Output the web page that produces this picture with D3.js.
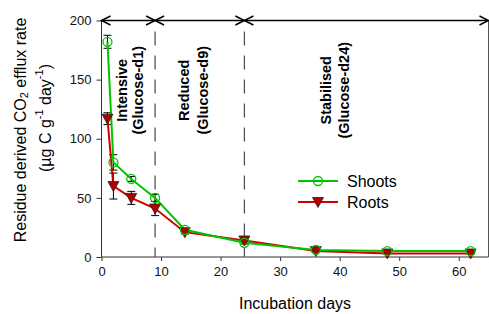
<!DOCTYPE html>
<html>
<head>
<meta charset="utf-8">
<script src="https://cdn.jsdelivr.net/npm/d3@7"></script>
<style>
  body { margin: 0; background: #fff; }
  text { font-family: Arial, "Liberation Sans", sans-serif; }
</style>
</head>
<body>
<div class="chart"></div>
<script>
var days = [1, 2, 5, 9, 14, 24, 36, 48, 62];
var shoots = [182, 80, 66, 50, 23, 12, 6, 5, 5];
var shootsErr = [5.5, 6.5, 2, 3, 1, 1, 0.5, 0.5, 0.5];
var roots = [117, 60, 50, 41, 21, 14, 5, 3, 3];
var rootsErr = [5, 11, 5.5, 6, 1.5, 1, 0.5, 0.5, 0.5];
var xTicks = [0, 10, 20, 30, 40, 50, 60];
var yTicks = [0, 50, 100, 150, 200];
var phaseBounds = [0, 9, 24, 65];
var phaseNames = [["Intensive", "(Glucose-d1)"], ["Reduced", "(Glucose-d9)"], ["Stabilised", "(Glucose-d24)"]];
var phaseLabelX = [[3.4, 6.1], [13.9, 17], [37.7, 40.7]];

var svgWidth = 489;
var svgHeight = 314;
var margin = {top: 20.5, right: 0.5, bottom: 57, left: 101.5};
var width = svgWidth - margin.left - margin.right;
var height = svgHeight - margin.top - margin.bottom;

var svg = d3.select(".chart")
  .append("svg")
  .attr("width", svgWidth)
  .attr("height", svgHeight);

var g = svg.append("g").attr("transform", `translate(${margin.left}, ${margin.top})`);

var xScale = d3.scaleLinear().domain([0, 65]).range([0, width]);
var yScale = d3.scaleLinear().domain([0, 200]).range([height, 0]);

var xAxis = g.append("g").attr("transform", `translate(0, ${height})`)
  .call(d3.axisBottom(xScale).tickValues(xTicks).tickSize(4).tickPadding(6));
var yAxis = g.append("g")
  .call(d3.axisLeft(yScale).tickValues(yTicks).tickSize(5).tickPadding(5));
[xAxis, yAxis].forEach(function(a) {
  a.selectAll("text").attr("font-size", 13).attr("fill", "#111");
  a.select(".domain").attr("stroke", "#333");
  a.selectAll(".tick line").attr("stroke", "#333");
});
xAxis.select(".domain").attr("d", `M0,0H${width}`);
yAxis.select(".domain").attr("d", `M0,${height}V0`);

// right border
g.append("line").attr("x1", width).attr("x2", width).attr("y1", 0).attr("y2", height)
  .attr("stroke", "#555");

// phase separators
g.selectAll(".sep").data(phaseBounds.slice(1, 3)).enter().append("line")
  .attr("x1", d => xScale(d)).attr("x2", d => xScale(d))
  .attr("y1", 11).attr("y2", height)
  .attr("stroke", "#555").attr("stroke-width", 1.3)
  .attr("stroke-dasharray", "14,10");

// top arrows
g.append("line").attr("x1", 0).attr("x2", width).attr("y1", 0).attr("y2", 0)
  .attr("stroke", "#000").attr("stroke-width", 1.3);
function head(x, dir) {
  g.append("path")
    .attr("d", `M${x + dir * 9},-4.5L${x},0L${x + dir * 9},4.5`)
    .attr("fill", "none").attr("stroke", "#000").attr("stroke-width", 1.5);
}
phaseBounds.forEach(function(b, i) {
  if (i < phaseBounds.length - 1) head(xScale(b), 1);
  if (i > 0) head(xScale(b), -1);
});

// phase labels
phaseNames.forEach(function(p, i) {
  p.forEach(function(t, j) {
    var cx = xScale(phaseLabelX[i][j]);
    var cy = yScale(141);
    g.append("text")
      .attr("transform", `translate(${cx}, ${cy}) rotate(-90)`)
      .attr("text-anchor", "middle")
      .attr("dominant-baseline", "central")
      .attr("font-size", 14.5).attr("font-weight", "bold")
      .text(t);
  });
});

var line = d3.line().x(d => xScale(d[0])).y(d => yScale(d[1]));
var series = [
  {name: "Shoots", vals: shoots, err: shootsErr, color: "#00c400", marker: "circle"},
  {name: "Roots", vals: roots, err: rootsErr, color: "#d00000", marker: "tri"}
];

series.forEach(function(s) {
  var pts = days.map((d, i) => [d, s.vals[i], s.err[i]]);
  var eb = g.append("g");
  pts.forEach(function(p) {
    var x = xScale(p[0]), y1 = yScale(p[1] + p[2]), y2 = yScale(p[1] - p[2]);
    eb.append("line").attr("x1", x).attr("x2", x).attr("y1", y1).attr("y2", y2).attr("stroke", "#000");
    eb.append("line").attr("x1", x - 4).attr("x2", x + 4).attr("y1", y1).attr("y2", y1).attr("stroke", "#000");
    eb.append("line").attr("x1", x - 4).attr("x2", x + 4).attr("y1", y2).attr("y2", y2).attr("stroke", "#000");
  });
});

function drawMarker(sel, s, x, y) {
  if (s.marker === "circle") {
    sel.append("circle").attr("cx", x).attr("cy", y).attr("r", 4.5)
      .attr("fill", "none").attr("stroke", s.color).attr("stroke-width", 1.3);
  } else {
    sel.append("path").attr("d", `M${x - 5.5},${y - 4.5}L${x + 5.5},${y - 4.5}L${x},${y + 5.5}Z`)
      .attr("fill", "#b00000").attr("stroke", "#222").attr("stroke-width", 0.8);
  }
}

// roots first so shoots line draws... draw lines then markers
series.slice().reverse().forEach(function(s) {
  g.append("path").datum(days.map((d, i) => [d, s.vals[i]]))
    .attr("d", line).attr("fill", "none").attr("stroke", s.color).attr("stroke-width", 2);
});
series.slice().reverse().forEach(function(s) {
  days.forEach(function(d, i) { drawMarker(g, s, xScale(d), yScale(s.vals[i])); });
});

// legend
var leg = svg.append("g");
series.forEach(function(s, i) {
  var y = 181 + i * 21;
  leg.append("line").attr("x1", 298).attr("x2", 338).attr("y1", y).attr("y2", y)
    .attr("stroke", s.color).attr("stroke-width", 2);
  drawMarker(leg, s, 318, y);
  leg.append("text").attr("x", 347).attr("y", y).attr("dominant-baseline", "central")
    .attr("font-size", 16).text(s.name);
});

// axis titles
svg.append("text").attr("x", margin.left + width / 2).attr("y", 303)
  .attr("text-anchor", "middle").attr("dominant-baseline", "central")
  .attr("font-size", 16).text("Incubation days");

var yt1 = svg.append("text").attr("transform", "translate(20, 130) rotate(-90)")
  .attr("text-anchor", "middle").attr("dominant-baseline", "central").attr("font-size", 16);
yt1.append("tspan").text("Residue derived CO");
yt1.append("tspan").attr("font-size", 11).attr("dy", 4).text("2");
yt1.append("tspan").attr("dy", -4).text(" efflux rate");

var yt2 = svg.append("text").attr("transform", "translate(45, 118) rotate(-90)")
  .attr("text-anchor", "middle").attr("dominant-baseline", "central").attr("font-size", 16);
yt2.append("tspan").text("(µg C g");
yt2.append("tspan").attr("font-size", 11).attr("dy", -6).text("-1");
yt2.append("tspan").attr("dy", 6).text(" day");
yt2.append("tspan").attr("font-size", 11).attr("dy", -6).text("-1");
yt2.append("tspan").attr("dy", 6).text(")");
</script>
</body>
</html>
